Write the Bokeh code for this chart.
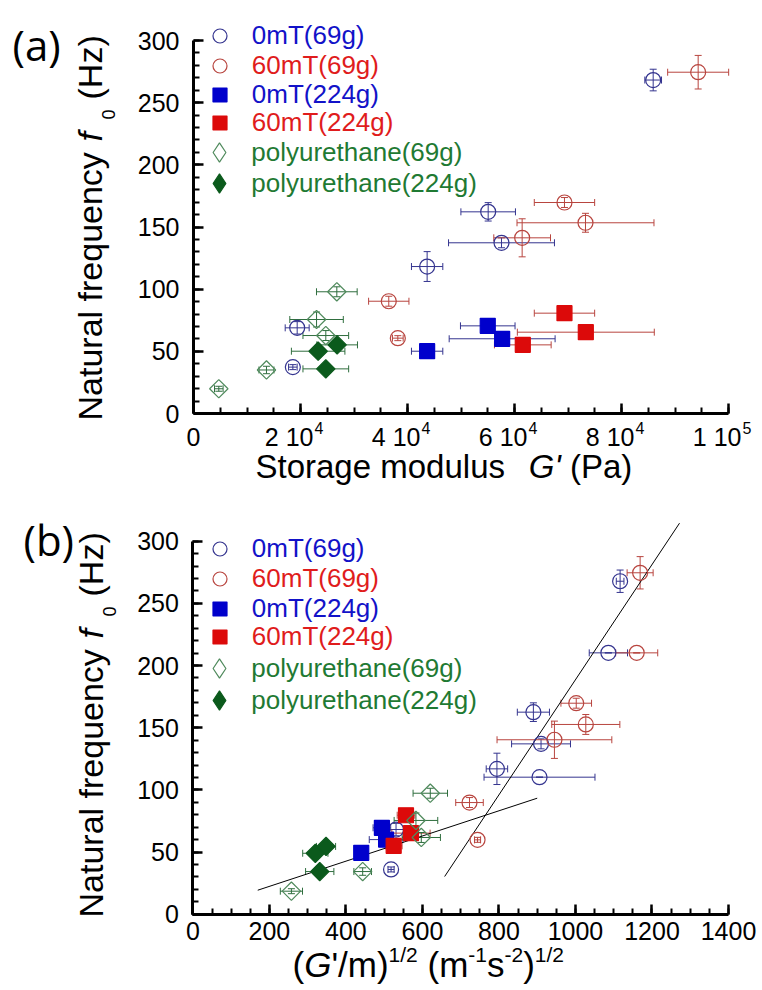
import numpy as np
from bokeh.plotting import figure
from bokeh.models import (ColumnDataSource, Whisker, TeeHead, Legend, LegendItem,
                          Label, FixedTicker, Range1d)
from bokeh.layouts import column
from bokeh.embed import file_html
from bokeh.resources import INLINE

FONT = "Liberation Sans"

# ----------------------------------------------------------------- data
series_names = ["0mT(69g)", "60mT(69g)", "0mT(224g)", "60mT(224g)",
                "polyurethane(69g)", "polyurethane(224g)"]

# ---- panel (a): storage modulus G' (Pa) vs natural frequency f0 (Hz)
a_0mT69_G = [18570, 19380, 43670, 55080, 57570, 85920]
a_0mT69_Gerr = [800, 2240, 2930, 5100, 9900, 1560]
a_0mT69_f = [37.3, 68.9, 118.2, 162.2, 137.3, 268.2]
a_0mT69_ferr = [2, 5, 12, 7.4, 4, 8.7]

a_60mT69_G = [36500, 38190, 61430, 69340, 73270, 94330]
a_60mT69_Gerr = [3770, 1000, 5300, 5640, 12800, 5700]
a_60mT69_f = [90.3, 60.6, 141.3, 169.7, 153.4, 274.5]
a_60mT69_ferr = [4, 2, 15.3, 4, 7.6, 13.5]

a_0mT224_G = [43670, 55000, 57690]
a_0mT224_Gerr = [2930, 5100, 9900]
a_0mT224_f = [50.1, 70.5, 60.1]
a_0mT224_ferr = [0, 0, 0]

a_60mT224_G = [61550, 69340, 73330]
a_60mT224_Gerr = [5300, 5640, 12800]
a_60mT224_f = [55.2, 80.7, 65.4]
a_60mT224_ferr = [0, 0, 0]

a_pu69_G = [4730, 13640, 23000, 24730, 26790]
a_pu69_Gerr = [800, 1400, 5000, 4270, 3800]
a_pu69_f = [19.9, 35.0, 75.6, 62.7, 97.9]
a_pu69_ferr = [2, 3, 6, 4, 4]

a_pu224_G = [23300, 26850, 24730]
a_pu224_Gerr = [5000, 3800, 4270]
a_pu224_f = [50.1, 55.2, 35.9]
a_pu224_ferr = [0, 0, 0]

a_xticks = [0, 20000, 40000, 60000, 80000, 100000]
a_xtick_mant = ["0", "2", "4", "6", "8", "1"]
a_xtick_exp = ["", "4", "4", "4", "4", "5"]

# ---- panel (b): (G'/m)^1/2 vs natural frequency f0 (Hz)
b_0mT69_x = [518, 531, 794.7, 890, 910, 906, 1086, 1116.7]
b_0mT69_xerr = [8, 30, 28, 42, 77, 145, 50, 10]
b_0mT69_f = [36.0, 68.1, 116.9, 162.5, 137.0, 110.2, 210.2, 267.8]
b_0mT69_ferr = [2, 5, 12.6, 7.5, 4, 0, 0, 9]

b_60mT69_x = [723, 744, 945, 1002, 1027, 1160, 1169]
b_60mT69_xerr = [36, 8, 150, 40, 89, 55, 34]
b_60mT69_f = [89.8, 59.8, 140.3, 169.7, 152.6, 210.2, 274.6]
b_60mT69_ferr = [4, 2, 15, 4, 8, 0, 13]

b_0mT224_x = [440, 494, 505]
b_0mT224_xerr = [15, 23, 44]
b_0mT224_f = [49.4, 69.5, 60.0]
b_0mT224_ferr = [0, 0, 0]

b_60mT224_x = [524.8, 557, 570]
b_60mT224_xerr = [22, 23, 50]
b_60mT224_f = [55.0, 79.6, 65.2]
b_60mT224_ferr = [0, 0, 0]

b_pu69_x = [257.5, 443.8, 583, 597, 620.5]
b_pu69_xerr = [29, 23, 57, 50, 45]
b_pu69_f = [18.5, 34.3, 75.4, 61.7, 97.3]
b_pu69_ferr = [2, 3, 6, 4, 4]

b_pu224_x = [320, 348, 331.5]
b_pu224_xerr = [33, 25, 37]
b_pu224_f = [49.0, 54.5, 34.3]
b_pu224_ferr = [0, 0, 0]

b_fit1_x = [169.5, 900]
b_fit1_y = [19.3, 93.3]
b_fit2_x = [658, 1272]
b_fit2_y = [30.3, 314.5]

# ----------------------------------------------------------------- styles
STY = {
    "0mT(69g)": dict(marker="circle", size=15, angle=0, line="#34348f", fill="#34348f",
                     alpha=0, err="#34348f", text="#1212c8"),
    "60mT(69g)": dict(marker="circle", size=15, angle=0, line="#b8453f", fill="#b8453f",
                      alpha=0, err="#b8453f", text="#e01c1c"),
    "0mT(224g)": dict(marker="square", size=15, angle=0, line="#0000cc", fill="#0000cc",
                      alpha=1, err="#34348f", text="#1212c8"),
    "60mT(224g)": dict(marker="square", size=15, angle=0, line="#dc0a0a", fill="#dc0a0a",
                       alpha=1, err="#b8453f", text="#e01c1c"),
    "polyurethane(69g)": dict(marker="square", size=13, angle=np.pi / 4, line="#4f8a5c",
                              fill="#4f8a5c", alpha=0, err="#2f6e3e", text="#1f7a33"),
    "polyurethane(224g)": dict(marker="square", size=13, angle=np.pi / 4, line="#0b5a1c",
                               fill="#0b5a1c", alpha=1, err="#2f6e3e", text="#1f7a33"),
}

ARIAL = {' ': 278, '(': 333, ')': 333, "'": 191, '/': 278, '-': 333, 'G': 778,
         'm': 833, 's': 500, 'f': 278, 'P': 667, 'a': 556, 'H': 722, 'z': 500}

W = 762


def tw(s, size):
    return sum(ARIAL.get(c, 556) for c in s) * size / 1000.0


def make_fig(H, xmax, x0px, x1px, ymax, y0px, y1px):
    """Frame covers the whole canvas; x0px/x1px = pixel of 0 and xmax,
    y0px/y1px = pixel (from top) of 0 and ymax."""
    sx = (x1px - x0px) / xmax
    sy = (y0px - y1px) / ymax
    p = figure(width=W, height=H,
               x_range=Range1d(-x0px / sx, (W - x0px) / sx),
               y_range=Range1d(-(H - y0px) / sy, y0px / sy),
               output_backend="svg", toolbar_location=None, title=None,
               min_border=0, min_border_left=0, min_border_right=0,
               min_border_top=0, min_border_bottom=0)
    p.grid.visible = False
    p.outline_line_color = None
    p.background_fill_color = "white"
    p.border_fill_color = "white"
    p.xaxis.fixed_location = 0
    p.yaxis.fixed_location = 0
    p.xaxis.bounds = (0, xmax)
    p.yaxis.bounds = (0, ymax)
    for ax in (p.xaxis[0], p.yaxis[0]):
        ax.axis_line_width = 3
        ax.axis_line_color = "black"
        ax.major_tick_line_width = 2.5
        ax.minor_tick_line_width = 2
        ax.major_tick_in = 10
        ax.major_tick_out = 0
        ax.minor_tick_in = 6
        ax.minor_tick_out = 0
        ax.major_label_text_font = FONT
        ax.major_label_text_font_size = "25px"
        ax.major_label_text_color = "black"
    p.yaxis.major_label_standoff = 14
    return p


def draw_series(p, x, xe, y, ye, st):
    src = ColumnDataSource(dict(
        x=x, y=y,
        xl=[a - b for a, b in zip(x, xe)], xu=[a + b for a, b in zip(x, xe)],
        yl=[a - b for a, b in zip(y, ye)], yu=[a + b for a, b in zip(y, ye)]))
    specs = [("width", "y", "xl", "xu", xe), ("height", "x", "yl", "yu", ye)]
    for dim, base, lo, up, errs in specs:
        if max(errs) <= 0:
            continue
        p.add_layout(Whisker(
            source=src, base=base, lower=lo, upper=up, dimension=dim,
            line_color=st["err"], line_width=1,
            lower_head=TeeHead(size=7, line_color=st["err"], line_width=1),
            upper_head=TeeHead(size=7, line_color=st["err"], line_width=1)))
    return p.scatter("x", "y", source=src, marker=st["marker"], size=st["size"],
                     angle=st["angle"], line_color=st["line"], fill_color=st["fill"],
                     fill_alpha=st["alpha"], line_width=1.2)


def add_legend(p, H, renderers, row_y):
    """row_y: canvas pixel (from top) of each legend row centre."""
    for name, r, yc in zip(series_names, renderers, row_y):
        st = STY[name]
        rend = r
        g = 35
        if st["angle"] != 0:
            # legend key for the diamond symbols (no visible point of its own)
            rend = p.scatter(x=[np.nan], y=[np.nan], marker="diamond", line_color=st["line"],
                             fill_color=st["fill"], fill_alpha=st["alpha"], line_width=1.2)
            g = 48
        leg = Legend(items=[LegendItem(label=name, renderers=[rend])],
                     location=(219.3 - g / 2, H - yc - g / 2), orientation="vertical",
                     label_text_color=st["text"], label_text_font=FONT,
                     label_text_font_size="26px", label_text_baseline="middle",
                     background_fill_alpha=0, border_line_alpha=0,
                     padding=0, margin=0, spacing=0,
                     glyph_width=g, glyph_height=g, label_height=g,
                     label_standoff=int(round(251.7 - (219.3 + g / 2))))
        p.add_layout(leg)


def lab(p, H, text, x, base, size, style="normal", align="left", rotated=False,
        font=FONT, x_units="screen", x_offset=0, k=0.36):
    """base = canvas pixel (from top) of the text baseline
    (for rotated text: x is the baseline and base the start)."""
    if rotated:
        xx, yy, ang = x - k * size, H - base, np.pi / 2
    else:
        xx, yy, ang = x, H - base + k * size, 0.0
    p.add_layout(Label(x=xx, y=yy, x_units=x_units, y_units="screen", text=text,
                       x_offset=x_offset, angle=ang, text_font=font,
                       text_font_size=f"{size}px", text_font_style=style,
                       text_align=align, text_baseline="alphabetic", text_color="black"))


def runs_h(p, H, runs, x0, base):
    x = x0
    for text, size, style, dy in runs:
        s = text.strip()
        x += tw(text[:len(text) - len(text.lstrip())], size)
        lab(p, H, s, x, base - dy, size, style)
        x += tw(s, size)


def y_title(p, H, xb, ystart):
    parts = [("Natural frequency", 34, "normal", 0, 0),
             ("f", 34, "italic", 279, 0),
             ("0", 18, "normal", 301, 12),
             ("(Hz)", 34, "normal", 321, 0)]
    for text, size, style, off, dx in parts:
        lab(p, H, text, xb + dx, ystart - off, size, style, rotated=True)


# ----------------------------------------------------------------- panel (a)
HA = 490
pa = make_fig(HA, 100000, 193, 728, 300, 413, 40)
pa.xaxis.ticker = FixedTicker(ticks=a_xticks, minor_ticks=list(range(0, 100001, 5000)))
pa.yaxis.ticker = FixedTicker(ticks=list(range(0, 301, 50)), minor_ticks=list(range(0, 301, 10)))
pa.xaxis.major_label_overrides = {t: " " for t in a_xticks}

ra = [
    draw_series(pa, a_0mT69_G, a_0mT69_Gerr, a_0mT69_f, a_0mT69_ferr, STY["0mT(69g)"]),
    draw_series(pa, a_60mT69_G, a_60mT69_Gerr, a_60mT69_f, a_60mT69_ferr, STY["60mT(69g)"]),
    draw_series(pa, a_0mT224_G, a_0mT224_Gerr, a_0mT224_f, a_0mT224_ferr, STY["0mT(224g)"]),
    draw_series(pa, a_60mT224_G, a_60mT224_Gerr, a_60mT224_f, a_60mT224_ferr, STY["60mT(224g)"]),
    draw_series(pa, a_pu69_G, a_pu69_Gerr, a_pu69_f, a_pu69_ferr, STY["polyurethane(69g)"]),
    draw_series(pa, a_pu224_G, a_pu224_Gerr, a_pu224_f, a_pu224_ferr, STY["polyurethane(224g)"]),
]
add_legend(pa, HA, ra, [35, 65, 94, 122.7, 152.3, 183.3])

for t, m, e in zip(a_xticks, a_xtick_mant, a_xtick_exp):
    if e == "":
        lab(pa, HA, m, t, 445, 25, align="center", x_units="data")
    else:
        lab(pa, HA, f"{m} 10", t, 445, 25, align="right", x_units="data", x_offset=13)
        lab(pa, HA, e, t, 433, 16, align="left", x_units="data", x_offset=14)

runs_h(pa, HA, [("Storage modulus ", 33, "normal", 0), ("G'", 33, "italic", 0),
                (" (Pa)", 33, "normal", 0)], 255, 478)
y_title(pa, HA, 102, 420)
lab(pa, HA, "(a)", 12, 62, 42, font="Open Sans", k=0.43)

# ----------------------------------------------------------------- panel (b)
HB = 500
OFF = 490  # page y of panel (b) canvas top
pb = make_fig(HB, 1400, 192.4, 728, 300, 913.7 - OFF, 540.7 - OFF)
pb.xaxis.ticker = FixedTicker(ticks=list(range(0, 1401, 200)), minor_ticks=list(range(0, 1401, 50)))
pb.yaxis.ticker = FixedTicker(ticks=list(range(0, 301, 50)), minor_ticks=list(range(0, 301, 10)))
pb.xaxis.major_label_standoff = 8

pb.line(b_fit1_x, b_fit1_y, line_color="black", line_width=1)
pb.line(b_fit2_x, b_fit2_y, line_color="black", line_width=1)

rb = [
    draw_series(pb, b_0mT69_x, b_0mT69_xerr, b_0mT69_f, b_0mT69_ferr, STY["0mT(69g)"]),
    draw_series(pb, b_60mT69_x, b_60mT69_xerr, b_60mT69_f, b_60mT69_ferr, STY["60mT(69g)"]),
    draw_series(pb, b_0mT224_x, b_0mT224_xerr, b_0mT224_f, b_0mT224_ferr, STY["0mT(224g)"]),
    draw_series(pb, b_60mT224_x, b_60mT224_xerr, b_60mT224_f, b_60mT224_ferr, STY["60mT(224g)"]),
    draw_series(pb, b_pu69_x, b_pu69_xerr, b_pu69_f, b_pu69_ferr, STY["polyurethane(69g)"]),
    draw_series(pb, b_pu224_x, b_pu224_xerr, b_pu224_f, b_pu224_ferr, STY["polyurethane(224g)"]),
]
add_legend(pb, HB, rb, [v - OFF for v in (548.3, 578.3, 608.3, 636.7, 668.3, 700)])

runs_h(pb, HB, [("(", 35, "normal", 0), ("G", 35, "italic", 0), ("'/m)", 35, "normal", 0),
                ("1/2", 21, "normal", 15), (" (m", 35, "normal", 0), ("-1", 21, "normal", 15),
                ("s", 35, "normal", 0), ("-2", 21, "normal", 15), (")", 35, "normal", 0),
                ("1/2", 21, "normal", 15)], 292, 977 - OFF)
y_title(pb, HB, 103, 917 - OFF)
lab(pb, HB, "(b)", 23, 557 - OFF, 42, font="Open Sans", k=0.43)

layout = column(pa, pb)
open("out.html", "w").write(file_html(layout, INLINE))
